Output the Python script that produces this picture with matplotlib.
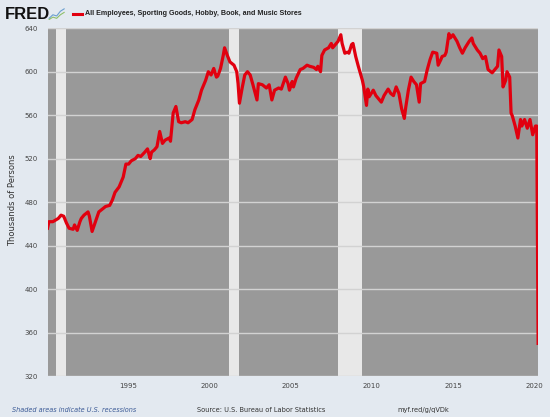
import datetime as dt
import matplotlib
matplotlib.use('Agg')
import matplotlib.pyplot as plt
import matplotlib.dates as mdates
from matplotlib.lines import Line2D

# monthly points (thousands of persons)
months = [
    '1990-01', '1990-02', '1990-05', '1990-09', '1990-11', '1991-01', '1991-03', '1991-05',
    '1991-08', '1991-09', '1991-11', '1992-01', '1992-02', '1992-04', '1992-07', '1992-08',
    '1992-10', '1993-01', '1993-03', '1993-06', '1993-08', '1993-11', '1994-01', '1994-03',
    '1994-06', '1994-09', '1994-11', '1995-01', '1995-03', '1995-06', '1995-08', '1995-10',
    '1996-01', '1996-03', '1996-05', '1996-06', '1996-08', '1996-10', '1996-12', '1997-02',
    '1997-04', '1997-07', '1997-08', '1997-10', '1997-12', '1998-02', '1998-04', '1998-07',
    '1998-09', '1998-12', '1999-02', '1999-05', '1999-07', '1999-10', '1999-12', '2000-02',
    '2000-04', '2000-06', '2000-07', '2000-09', '2000-11', '2000-12', '2001-02', '2001-04',
    '2001-07', '2001-09', '2001-10', '2001-11', '2002-01', '2002-03', '2002-05', '2002-07',
    '2002-09', '2002-12', '2003-01', '2003-04', '2003-07', '2003-09', '2003-11', '2004-01',
    '2004-04', '2004-06', '2004-09', '2004-11', '2004-12', '2005-02', '2005-03', '2005-05',
    '2005-08', '2005-10', '2006-01', '2006-03', '2006-06', '2006-08', '2006-09', '2006-11',
    '2006-12', '2007-02', '2007-05', '2007-07', '2007-08', '2007-10', '2007-12', '2008-02',
    '2008-03', '2008-05', '2008-07', '2008-08', '2008-10', '2008-11', '2009-01', '2009-03',
    '2009-06', '2009-07', '2009-09', '2009-10', '2009-11', '2010-02', '2010-04', '2010-08',
    '2010-10', '2011-01', '2011-03', '2011-05', '2011-07', '2011-09', '2011-11', '2012-01',
    '2012-02', '2012-04', '2012-06', '2012-08', '2012-10', '2012-12', '2013-01', '2013-04',
    '2013-06', '2013-08', '2013-10', '2014-01', '2014-02', '2014-04', '2014-05', '2014-07',
    '2014-08', '2014-10', '2014-11', '2015-01', '2015-04', '2015-06', '2015-08', '2015-10',
    '2016-01', '2016-03', '2016-04', '2016-07', '2016-09', '2016-11', '2017-01', '2017-03',
    '2017-06', '2017-08', '2017-10', '2017-11', '2018-01', '2018-02', '2018-04', '2018-05',
    '2018-07', '2018-08', '2018-09', '2018-11', '2019-01', '2019-03', '2019-04', '2019-06',
    '2019-08', '2019-10', '2019-12', '2020-02', '2020-03', '2020-04',
]
employees = [
    456, 462, 462, 465, 468, 467, 461, 456,
    455, 459, 454, 462, 465, 468, 471, 467,
    453, 464, 471, 474, 476, 477, 482, 489,
    494, 503, 515, 515, 518, 520, 523, 522,
    526, 529, 520, 526, 528, 531, 545, 534,
    537, 539, 536, 562, 568, 554, 553, 554,
    553, 556, 565, 574, 583, 592, 600, 597,
    603, 595, 596, 603, 615, 622, 615, 609,
    606, 600, 589, 571, 585, 597, 600, 597,
    588, 574, 589, 588, 585, 588, 574, 583,
    585, 584, 595, 589, 583, 591, 586, 594,
    602, 603, 606, 605, 604, 602, 605, 600,
    615, 620, 622, 626, 622, 625, 628, 634,
    626, 617, 618, 617, 625, 626, 614, 605,
    592, 586, 569, 584, 577, 583, 578, 572,
    578, 584, 580, 578, 586, 580, 566, 557,
    567, 583, 595, 591, 588, 572, 589, 591,
    602, 611, 618, 617, 606, 611, 614, 615,
    618, 635, 631, 634, 628, 622, 617, 622,
    628, 631, 626, 620, 617, 612, 614, 602,
    599, 602, 605, 620, 614, 586, 592, 600,
    595, 562, 559, 550, 539, 556, 550, 556,
    548, 556, 542, 550, 550, 350,
]

recession_start = ['1990-07', '2001-03', '2007-12']
recession_end = ['1991-03', '2001-11', '2009-06']

year_ticks = [1995, 2000, 2005, 2010, 2015, 2020]
y_ticks = [320, 360, 400, 440, 480, 520, 560, 600, 640]


def to_date(s):
    y, m = s.split('-')
    return dt.date(int(y), int(m), 1)


dates = [to_date(s) for s in months]

bg = '#e3e9f0'
fig = plt.figure(figsize=(5.5, 4.17), dpi=100, facecolor=bg)
ax = fig.add_axes([0.0864, 0.0983, 0.892, 0.834])
ax.set_facecolor('#999999')

for s, e in zip(recession_start, recession_end):
    ax.axvspan(to_date(s), to_date(e), color='#e8e8e8', lw=0, zorder=1)

ax.plot(dates, employees, color='#e1000f', lw=2.3, zorder=3, solid_joinstyle='round')

ax.set_xlim(dt.date(1990, 1, 1), dt.date(2020, 4, 1))
ax.set_ylim(320, 640)
ax.set_yticks(y_ticks)
ax.set_xticks([dt.date(y, 1, 1) for y in year_ticks])
ax.xaxis.set_major_formatter(mdates.DateFormatter('%Y'))
ax.grid(axis='y', color='#d2d2d2', lw=1.0, zorder=2)
ax.tick_params(axis='both', length=0, labelsize=5, labelcolor='#444444')
ax.tick_params(axis='y', pad=7)
ax.tick_params(axis='x', pad=5)
for sp in ax.spines.values():
    sp.set_visible(False)

# y label placed by hand, as in the FRED graph
fig.text(0.022, 0.52, 'Thousands of Persons', fontsize=6, color='#333333',
         rotation=90, ha='center', va='center')

# header
fig.text(0.009, 0.965, 'FRED', fontsize=12, fontweight='bold', family='Liberation Sans',
         color='#111111', va='center')
icon = fig.add_axes([0.088, 0.952, 0.03, 0.028])
icon.plot([0, 1, 2, 3, 4], [0.2, 0.5, 0.4, 0.8, 1.0], color='#6a9fd0', lw=0.8)
icon.plot([0, 1, 2, 3, 4], [0.1, 0.3, 0.2, 0.5, 0.7], color='#8fbf6a', lw=0.8)
icon.axis('off')
fig.add_artist(Line2D([0.133, 0.149], [0.967, 0.967], color='#e1000f', lw=2.2))
fig.text(0.154, 0.967, 'All Employees, Sporting Goods, Hobby, Book, and Music Stores',
         fontsize=5.1, fontweight='bold', family='Liberation Sans', color='#222222', va='center')

# footer
fig.text(0.022, 0.017, 'Shaded areas indicate U.S. recessions', fontsize=4.7, style='italic',
         color='#3b5a96', va='center')
fig.text(0.358, 0.017, 'Source: U.S. Bureau of Labor Statistics', fontsize=4.8,
         color='#333333', va='center')
fig.text(0.722, 0.017, 'myf.red/g/qVDk', fontsize=4.8, color='#333333', va='center')

fig.savefig('out.png', dpi=100, facecolor=bg)
